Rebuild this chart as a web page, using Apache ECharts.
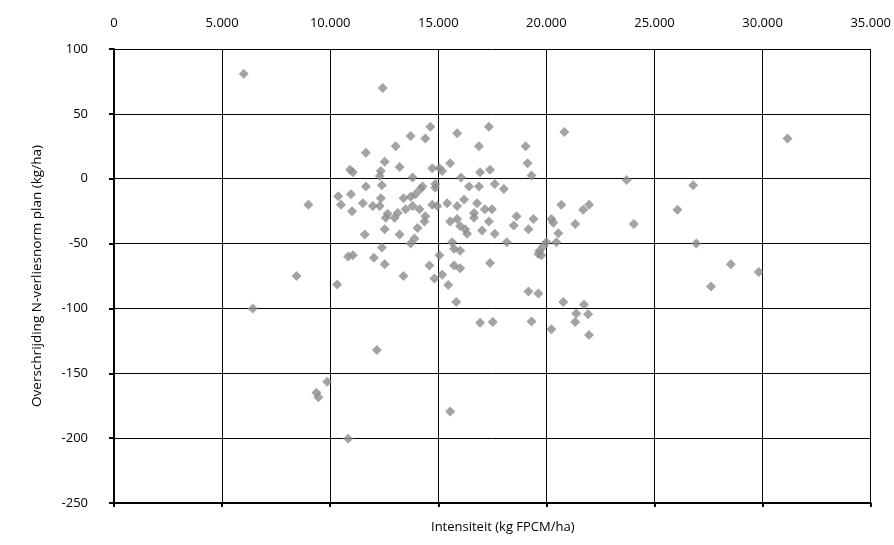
<!DOCTYPE html>
<html>
<head>
<meta charset="utf-8">
<script src="https://cdn.jsdelivr.net/npm/echarts@6/dist/echarts.min.js"></script>
<style>html,body{margin:0;padding:0;background:#fff}#c{width:894px;height:545px}</style>
</head>
<body>
<div id="c"></div>
<script>
// Intensiteit (kg FPCM/ha)
const intensiteit = [
6000,12430,14630,13720,14400,13030,11650,15870,17340,16880,
12520,13210,10920,11050,12340,12290,15050,15180,15550,16930,
17390,20830,31150,19040,19130,19310,23710,26790,17610,18030,
16050,16420,16880,14860,14860,13810,14720,11650,12390,14270,
13945,13720,14170,10370,10960,10500,11010,11510,11970,12340,
12290,13390,12660,13120,13490,13810,14130,14720,14400,8990,
14950,15410,15870,16190,16790,17155,17480,16650,18620,19400,
20230,11600,12520,13210,14040,14360,13900,13720,12390,10830,
11050,12020,12520,13390,10320,14590,14820,12570,12980,15550,
15870,16010,16240,16330,17340,17020,17610,16650,19170,20320,
18165,15640,15730,16010,15050,17390,15730,16010,15180,15460,
15830,19170,19630,16930,17520,19310,20230,20000,19860,19680,
19630,19770,20690,21970,21700,24040,26060,26930,28530,29820,
27610,21330,20550,20460,20780,21740,21380,21930,21330,21970,
18490,8440,6420,12160,9860,9360,9450,10830,15550
];
// Overschrijding N-verliesnorm plan (kg/ha)
const overschrijding = [
81,70,40,33,31,25,20,35,40,25,
13,9,7,5,6,2,8,6,12,5,
7,36,31,25,12,2.5,-1,-5,-4,-8,
1,-6,-6,-4,-7,1,8,-6,-5,-6,
-12,-14,-8,-13.5,-12,-20,-25,-19,-21,-15,
-21,-15,-27,-26.5,-23.5,-21,-23.5,-20,-29,-20,
-21,-19,-21,-16,-19,-23.5,-23.5,-26.5,-29,-31,
-31,-43,-39,-43,-38,-33,-46,-50,-53,-60,
-59,-61,-66,-75,-81.5,-67,-77,-30,-30,-33,
-31,-36.5,-39,-42.5,-33,-40,-42.5,-30,-39,-34,
-49,-49,-54,-55.5,-59,-65,-67,-69,-74,-82,
-95,-87,-88.5,-111,-110.5,-110,-116,-49,-52,-55.5,
-58,-59,-20,-20,-24,-35,-24,-50,-66,-72,
-83,-35,-42,-49,-95,-97,-104,-104.5,-110.5,-120.5,
-36,-75,-100,-132,-156.5,-165,-168.5,-200.5,-179.5
];
const xTicks = [0,5000,10000,15000,20000,25000,30000,35000];
const yTicks = [-250,-200,-150,-100,-50,0,50,100];

const points = intensiteit.map((x,i)=>[x, overschrijding[i]]);
const fmtThousands = v => String(v).replace(/\B(?=(\d{3})+(?!\d))/g, '.');
const FONT = '"Open Sans","Noto Sans",sans-serif';

const chart = echarts.init(document.getElementById('c'), null, {renderer:'canvas'});
chart.setOption({
  animation:false,
  backgroundColor:'#fff',
  grid:{left:114,right:17,top:49,bottom:42,containLabel:false},
  xAxis:[{
    type:'value', position:'top', min:xTicks[0], max:xTicks[xTicks.length-1], interval:5000,
    axisLine:{show:false}, axisTick:{show:false},
    axisLabel:{margin:19,color:'#000',fontSize:13,fontFamily:FONT,formatter:fmtThousands},
    splitLine:{show:true,lineStyle:{color:'#000',width:1}}
  },{
    type:'value', position:'bottom', min:xTicks[0], max:xTicks[xTicks.length-1], interval:5000,
    axisLine:{show:true,onZero:true,lineStyle:{color:'#000',width:2}},
    axisTick:{show:true,inside:false,length:4,lineStyle:{color:'#000',width:2}},
    axisLabel:{show:false}, splitLine:{show:false}
  }],
  yAxis:{
    type:'value', min:yTicks[0], max:yTicks[yTicks.length-1], interval:50,
    axisLine:{show:true,onZero:false,lineStyle:{color:'#000',width:2}},
    axisTick:{show:true,length:5,lineStyle:{color:'#000',width:2}},
    axisLabel:{margin:26,color:'#000',fontSize:13,fontFamily:FONT},
    splitLine:{show:true,lineStyle:{color:'#000',width:1}},
    name:'Overschrijding N-verliesnorm plan (kg/ha)', nameLocation:'middle', nameGap:70,
    nameTextStyle:{color:'#000',fontSize:13.5,fontFamily:FONT}
  },
  graphic:[{type:'text',left:431,top:521,style:{text:'Intensiteit (kg FPCM/ha)',fill:'#000',font:'13px '+FONT}}],
  series:[{
    type:'scatter', xAxisIndex:0, data:points, symbol:'diamond', symbolSize:10,
    itemStyle:{color:'#8c8c8c'}
  }]
});
</script>
</body>
</html>
